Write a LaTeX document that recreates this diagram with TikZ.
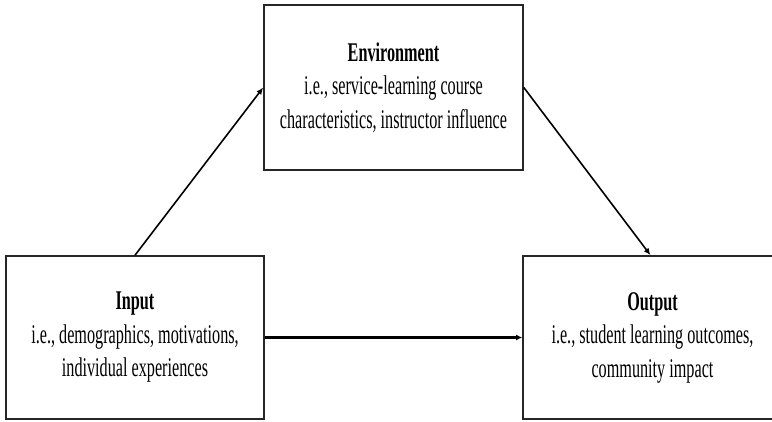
\documentclass[tikz,border=0pt]{standalone}
\usepackage{fontspec}
\setmainfont[FakeStretch=0.6]{Liberation Serif}
\usetikzlibrary{arrows.meta}
\begin{document}
\begin{tikzpicture}[x=1pt,y=-1pt,
  boxnode/.style={draw=black!85,line width=1.6pt,rectangle,align=center,
    inner sep=0pt,font=\fontsize{27}{33.5}\selectfont},
  conn/.style={draw=black,line width=1.6pt,-{Latex[length=7pt,width=6pt]}},
  thickconn/.style={draw=black,line width=2.8pt,-{Latex[length=6pt,width=6pt]}}]
\useasboundingbox (0,0) rectangle (772,421);
\clip (0,0) rectangle (772,421);
\node[boxnode,minimum width=259pt,minimum height=165pt] (env) at (393.5,87.5)
  {\textbf{Environment}\\i.e., service-learning course\\characteristics, instructor influence};
\node[boxnode,minimum width=258pt,minimum height=163pt] (inp) at (135,337.5)
  {\textbf{Input}\\i.e., demographics, motivations,\\individual experiences};
\node[boxnode,minimum width=259pt,minimum height=163pt] (out) at (652.5,337.5)
  {\textbf{Output}\\i.e., student learning outcomes,\\community impact};
\draw[conn] (inp.north) -- (env.west);
\draw[conn] (env.east) -- ([xshift=-2pt]out.north);
\draw[thickconn] (inp.east) -- (out.west);
\end{tikzpicture}
\end{document}
